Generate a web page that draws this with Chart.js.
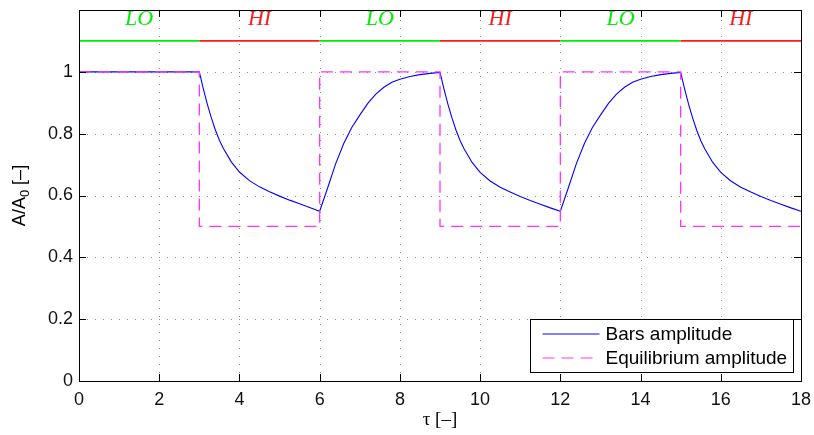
<!DOCTYPE html>
<html>
<head>
<meta charset="utf-8">
<script src="https://cdn.jsdelivr.net/npm/chart.js@4.4.1/dist/chart.umd.min.js"></script>
<style>
  html, body { margin: 0; padding: 0; background: #ffffff; }
  #wrap { width: 814px; height: 435px; }
</style>
</head>
<body>
<div id="wrap"><canvas id="c" width="814" height="435"></canvas></div>
<script>
// ---- data ----
const tauBars = [
  0, 3,
  3.1, 3.2, 3.3, 3.4, 3.5, 3.6, 3.8, 4.0, 4.25, 4.5, 4.75, 5.0, 5.25, 5.5, 5.75, 6.0,
  6.2, 6.4, 6.6, 6.8, 7.0, 7.2, 7.4, 7.6, 7.8, 8.0, 8.25, 8.5, 8.75, 9.0,
  9.1, 9.2, 9.3, 9.4, 9.5, 9.6, 9.8, 10.0, 10.25, 10.5, 10.75, 11.0, 11.25, 11.5, 11.75, 12.0,
  12.2, 12.4, 12.6, 12.8, 13.0, 13.2, 13.4, 13.6, 13.8, 14.0, 14.25, 14.5, 14.75, 15.0,
  15.1, 15.2, 15.3, 15.4, 15.5, 15.6, 15.8, 16.0, 16.25, 16.5, 16.75, 17.0, 17.25, 17.5, 17.75, 18.0
];
const ampBars = [
  1.0, 1.0,
  0.945, 0.895, 0.851, 0.812, 0.779, 0.752, 0.708, 0.676, 0.648, 0.628, 0.612, 0.598, 0.585, 0.573, 0.561, 0.549,
  0.625, 0.703, 0.768, 0.820, 0.860, 0.898, 0.928, 0.950, 0.966, 0.976, 0.985, 0.991, 0.995, 0.998,
  0.944, 0.894, 0.850, 0.811, 0.778, 0.751, 0.707, 0.675, 0.647, 0.627, 0.611, 0.597, 0.584, 0.572, 0.560, 0.549,
  0.625, 0.703, 0.768, 0.820, 0.860, 0.898, 0.928, 0.950, 0.966, 0.976, 0.985, 0.991, 0.995, 0.998,
  0.944, 0.894, 0.850, 0.811, 0.778, 0.751, 0.707, 0.675, 0.647, 0.627, 0.611, 0.597, 0.584, 0.572, 0.560, 0.549
];
const phaseStart = [0, 3, 6, 9, 12, 15];
const phaseEnd   = [3, 6, 9, 12, 15, 18];
const phaseLabel = ['LO', 'HI', 'LO', 'HI', 'LO', 'HI'];
const eqAmp      = [1, 0.5, 1, 0.5, 1, 0.5];
const indicatorLevel = 1.1;
const labelLevel = 1.17;
const xTicks = [0, 2, 4, 6, 8, 10, 12, 14, 16, 18];
const yTicks = [0, 0.2, 0.4, 0.6, 0.8, 1.0];
const seriesNames = ['Bars amplitude', 'Equilibrium amplitude'];

// ---- styles ----
const BLUE = '#0000ff';
const MAGENTA = '#ff33ff';
const phaseColor = l => (l === 'LO' ? '#00ee00' : '#ff1a1a');
const SANS = '"Liberation Sans", Arial, Helvetica, sans-serif';
const SERIF = '"Liberation Serif", "Times New Roman", serif';

// ---- build datasets from arrays ----
const barsData = tauBars.map((t, i) => ({ x: t, y: ampBars[i] }));
const eqData = [];
phaseStart.forEach((s, i) => {
  eqData.push({ x: s, y: eqAmp[i] });
  eqData.push({ x: phaseEnd[i], y: eqAmp[i] });
});
const indData = phaseStart.map(s => ({ x: s, y: indicatorLevel }));
indData.push({ x: phaseEnd[phaseEnd.length - 1], y: indicatorLevel });

const decorPlugin = {
  id: 'decor',
  beforeDatasetsDraw(chart) {
    const { ctx, chartArea: a, scales: { x, y } } = chart;
    ctx.save();
    ctx.strokeStyle = '#8c8c8c';
    ctx.lineWidth = 1;
    ctx.setLineDash([1, 7]);
    xTicks.forEach(v => {
      if (v <= x.min || v >= x.max) return;
      const px = Math.round(x.getPixelForValue(v)) + 0.5;
      ctx.beginPath(); ctx.moveTo(px, a.bottom); ctx.lineTo(px, a.top); ctx.stroke();
    });
    yTicks.forEach(v => {
      if (v <= y.min || v >= y.max) return;
      const py = Math.round(y.getPixelForValue(v)) + 0.5;
      ctx.beginPath(); ctx.moveTo(a.left, py); ctx.lineTo(a.right, py); ctx.stroke();
    });
    ctx.restore();
  },
  afterDatasetsDraw(chart) {
    const { ctx, chartArea: a, scales: { x, y } } = chart;
    ctx.save();
    // box
    ctx.strokeStyle = '#000';
    ctx.lineWidth = 1;
    ctx.setLineDash([]);
    ctx.strokeRect(Math.round(a.left) + 0.5, Math.round(a.top) + 0.5,
                   Math.round(a.right - a.left), Math.round(a.bottom - a.top));
    // inward tick marks
    const tl = 7;
    ctx.beginPath();
    xTicks.forEach(v => {
      const px = Math.round(x.getPixelForValue(v)) + 0.5;
      ctx.moveTo(px, a.bottom); ctx.lineTo(px, a.bottom - tl);
      ctx.moveTo(px, a.top); ctx.lineTo(px, a.top + tl);
    });
    yTicks.forEach(v => {
      const py = Math.round(y.getPixelForValue(v)) + 0.5;
      ctx.moveTo(a.left, py); ctx.lineTo(a.left + tl, py);
      ctx.moveTo(a.right, py); ctx.lineTo(a.right - tl, py);
    });
    ctx.stroke();

    // LO / HI labels
    ctx.font = 'italic 22px ' + SERIF;
    ctx.textAlign = 'center';
    ctx.textBaseline = 'middle';
    phaseLabel.forEach((l, i) => {
      ctx.fillStyle = phaseColor(l);
      ctx.fillText(l, x.getPixelForValue((phaseStart[i] + phaseEnd[i]) / 2), y.getPixelForValue(labelLevel));
    });

    // legend
    const lw = 263, lh = 53;
    const lx = Math.round(a.right - 8 - lw) + 0.5;
    const ly = Math.round(a.bottom - 9 - lh) + 0.5;
    ctx.fillStyle = '#fff';
    ctx.fillRect(lx, ly, lw, lh);
    ctx.strokeStyle = '#000';
    ctx.lineWidth = 1;
    ctx.strokeRect(lx, ly, lw, lh);
    const rows = [ly + 14.5, ly + 38.5];
    ctx.lineWidth = 1.2;
    ctx.strokeStyle = BLUE;
    ctx.beginPath(); ctx.moveTo(lx + 12, rows[0]); ctx.lineTo(lx + 69, rows[0]); ctx.stroke();
    ctx.strokeStyle = MAGENTA;
    ctx.setLineDash([12, 7]);
    ctx.beginPath(); ctx.moveTo(lx + 12, rows[1]); ctx.lineTo(lx + 69, rows[1]); ctx.stroke();
    ctx.setLineDash([]);
    ctx.fillStyle = '#000';
    ctx.font = '19px ' + SANS;
    ctx.textAlign = 'left';
    ctx.textBaseline = 'middle';
    ctx.fillText(seriesNames[0], lx + 75, rows[0] + 1);
    ctx.fillText(seriesNames[1], lx + 75, rows[1] + 1);

    // axis titles
    ctx.fillStyle = '#000';
    ctx.font = '19px ' + SERIF;
    ctx.textAlign = 'center';
    ctx.textBaseline = 'middle';
    ctx.fillText('\u03c4 [\u2013]', (a.left + a.right) / 2, 420);

    ctx.save();
    ctx.translate(20, (a.top + a.bottom) / 2);
    ctx.rotate(-Math.PI / 2);
    const p1 = 'A/A', sub = '0', p2 = ' [\u2013]';
    ctx.font = '18px ' + SANS;
    const w1 = ctx.measureText(p1).width;
    const w3 = ctx.measureText(p2).width;
    ctx.font = '13px ' + SANS;
    const w2 = ctx.measureText(sub).width;
    const total = w1 + w2 + w3;
    let cx = -total / 2;
    ctx.textAlign = 'left';
    ctx.font = '18px ' + SANS;
    ctx.fillText(p1, cx, 0); cx += w1;
    ctx.font = '13px ' + SANS;
    ctx.fillText(sub, cx, 5); cx += w2;
    ctx.font = '18px ' + SANS;
    ctx.fillText(p2, cx, 0);
    ctx.restore();

    ctx.restore();
  }
};

new Chart(document.getElementById('c'), {
  type: 'line',
  data: {
    datasets: [
      {
        label: seriesNames[1],
        data: eqData,
        borderColor: MAGENTA,
        borderWidth: 1.3,
        borderDash: [12, 7],
        pointRadius: 0,
        tension: 0,
        fill: false,
        order: 0
      },
      {
        label: seriesNames[0],
        data: barsData,
        borderColor: BLUE,
        borderWidth: 1.1,
        pointRadius: 0,
        tension: 0,
        fill: false,
        order: 1
      },
      {
        label: 'phase',
        data: indData,
        borderWidth: 1.6,
        borderColor: '#00ee00',
        segment: {
          borderColor: c => phaseColor(phaseLabel[c.p0DataIndex])
        },
        pointRadius: 0,
        tension: 0,
        fill: false,
        order: 2
      }
    ]
  },
  options: {
    responsive: false,
    animation: false,
    events: [],
    layout: { padding: { top: 10, right: 13, left: 0, bottom: 0 } },
    plugins: { legend: { display: false }, tooltip: { enabled: false } },
    scales: {
      x: {
        type: 'linear',
        min: 0, max: 18,
        grid: { display: false, drawTicks: false },
        border: { display: false },
        afterBuildTicks: s => { s.ticks = xTicks.map(v => ({ value: v })); },
        ticks: {
          color: '#111',
          font: { family: SANS, size: 18 },
          padding: 8,
          maxRotation: 0,
          autoSkip: false,
          callback: v => String(v)
        },
        afterFit: s => { s.height = 54; s.paddingLeft = 0; s.paddingRight = 0; }
      },
      y: {
        type: 'linear',
        min: 0, max: 1.2,
        grid: { display: false, drawTicks: false },
        border: { display: false },
        afterBuildTicks: s => { s.ticks = yTicks.map(v => ({ value: v })); },
        ticks: {
          color: '#111',
          font: { family: SANS, size: 18 },
          padding: 6,
          autoSkip: false,
          callback: v => String(Number(v.toFixed(1)))
        },
        afterFit: s => { s.width = 79; s.paddingTop = 0; s.paddingBottom = 0; }
      }
    }
  },
  plugins: [decorPlugin]
});
</script>
</body>
</html>
